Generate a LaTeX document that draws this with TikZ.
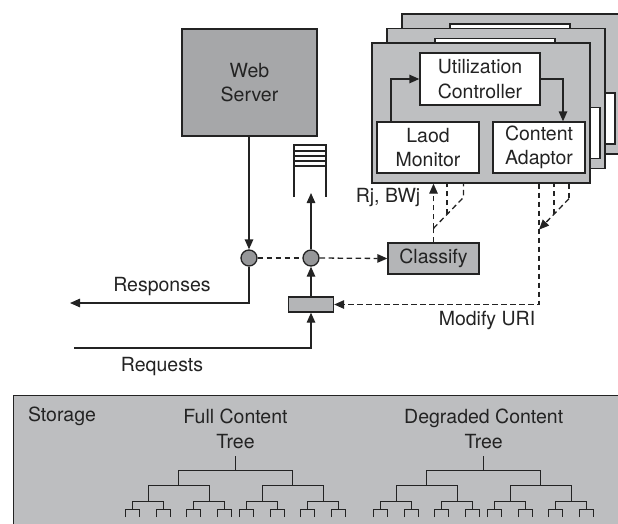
\documentclass[tikz,border=0pt]{standalone}
\usepackage{fontspec}
\setmainfont{TeX Gyre Heros}
\usetikzlibrary{arrows.meta,calc}
\definecolor{panelgray}{RGB}{190,191,193}
\definecolor{webgray}{RGB}{166,167,169}
\definecolor{circgray}{RGB}{150,151,153}
\definecolor{clsgray}{RGB}{180,181,183}
\definecolor{storegray}{RGB}{189,190,192}
\definecolor{ink}{RGB}{35,35,35}
\newif\ifpaneltext
\tikzset{
  lw/.style={line width=1.3pt, draw=ink},
  arr/.style={lw, -{Triangle[length=10pt,width=8.5pt]}},
  dsh/.style={lw, dash pattern=on 5.5pt off 3.5pt},
  txt/.style={font=\fontsize{19.5pt}{24.5pt}\selectfont, text=ink, align=center, inner sep=0pt},
  box/.style={txt, lw, rectangle},
  wbox/.style={box, fill=white},
  pbox/.style={lw, rectangle, fill=panelgray, minimum width=218pt, minimum height=140pt, inner sep=0pt},
  treeline/.style={line width=0.9pt, draw=ink},
  panel/.pic={
    \node[pbox] (-panel) at (109,70) {};
    \node[wbox, minimum width=120pt, minimum height=52pt] (-util) at (108,36) {\ifpaneltext Utilization\\Controller\fi};
    \node[wbox, minimum width=102pt, minimum height=51pt] (-mon) at (56,104.5) {\ifpaneltext Laod\\Monitor\fi};
    \node[wbox, minimum width=92pt, minimum height=51pt] (-ada) at (167,104.5) {\ifpaneltext Content\\Adaptor\fi};
    \draw[arr] ([xshift=-37pt]-mon.north) |- (-util.west);
    \draw[arr] (-util.east) -| ([xshift=24pt]-ada.north);
  }
}
\newcommand\mytree[1]{%
  \draw[treeline] (#1,456) -- (#1,470);
  \draw[treeline] (#1-57,485) -- (#1-57,470) -- (#1+57,470) -- (#1+57,485);
  \foreach \a in {-57,57}{
    \draw[treeline] (#1+\a-30.5,501) -- (#1+\a-30.5,485) -- (#1+\a+30.5,485) -- (#1+\a+30.5,501);
    \foreach \b in {-30.5,30.5}{
      \draw[treeline] (#1+\a+\b-15.5,509) -- (#1+\a+\b-15.5,501) -- (#1+\a+\b+15.5,501) -- (#1+\a+\b+15.5,509);
      \foreach \c in {-15.5,15.5}{
        \draw[treeline] (#1+\a+\b+\c-7,517) -- (#1+\a+\b+\c-7,509) -- (#1+\a+\b+\c+7,509) -- (#1+\a+\b+\c+7,517);
      }
    }
  }
}
\begin{document}
\begin{tikzpicture}[x=1pt,y=-1pt]
\useasboundingbox (0,0) rectangle (618,523);
\clip (0,0) rectangle (618,523);

% storage
\node[lw, rectangle, fill=storegray, minimum width=620pt, minimum height=140pt, inner sep=0pt, anchor=north west] (storage) at (12.7,395) {};
\node[txt] (storagelbl) at (62,416) {Storage};
\node[txt] (fulllbl) at (235.5,429) {Full Content\\Tree};
\node[txt] (deglbl) at (483.7,429) {Degraded Content\\Tree};
\mytree{235.5}
\mytree{483.7}

% panels (back copies are hidden behind the front one, so they carry no text)
\paneltextfalse
\pic (back2) at (402,14) {panel};
\pic (back1) at (387,28.5) {panel};
\paneltexttrue
\pic (front) at (372,43) {panel};

% web server and flow elements
\node[box, fill=webgray, minimum width=135pt, minimum height=107pt] (web) at (249.5,82.5) {Web\\Server};
\node[lw, circle, fill=circgray, minimum size=16pt, inner sep=0pt] (c1) at (249,258) {};
\node[lw, circle, fill=circgray, minimum size=16pt, inner sep=0pt] (c2) at (311,258) {};
\node[box, fill=clsgray, minimum width=91pt, minimum height=31pt] (classify) at (433.5,258.5) {Classify};
\node[box, fill=clsgray, minimum width=45pt, minimum height=15pt] (mux) at (311,304.5) {};

% queue
\draw[lw] (294,197) -- (294,145) -- (326,145) -- (326,197);
\foreach \y in {151,156,161,166}{\draw[lw] (294,\y) -- (326,\y);}
\coordinate (qbot) at (311,193);

% solid connectors
\draw[arr] (web.south -| c1) -- (c1.north);
\coordinate (respEnd) at (70,303);
\draw[arr] (c1.south) |- (respEnd);
\coordinate (reqStart) at (74,348);
\draw[arr] (reqStart) -| (mux.south);
\draw[arr] (mux.north) -- (c2.south);
\draw[arr] (c2.north) -- (qbot);

% dashed connectors
\draw[dsh] (c1.east) -- (c2.west);
\draw[dsh, -{Triangle[length=10pt,width=8.5pt]}] (c2.east) -- (classify.west);

\draw[dsh] (classify.north) -- ++(0,-14) coordinate (lj);
\draw[dsh, -{Triangle[length=10pt,width=8.5pt]}] (lj) -- (lj |- front-panel.south);
\coordinate (lk) at ($(lj)+(30,-31)$);
\draw[dsh] (lj) -- (lk) -- (lk |- front-panel.south);
\coordinate (lm) at ($(lj)!0.45!(lk)$);
\draw[dsh] (lm) -- (lm |- front-panel.south);

\draw[dsh, -{Triangle[length=10pt,width=8.5pt]}] (front-ada.south |- front-panel.south) |- (mux.east);
\coordinate (rj) at ($(front-ada.south |- front-panel.south)+(0,46)$);
\coordinate (rk) at ($(rj)+(30,-31)$);
\draw[dsh] (rk |- front-panel.south) -- (rk);
\draw[dsh, -{Triangle[length=10pt,width=8.5pt]}] (rk) -- (rj);
\coordinate (rm) at ($(rj)!0.5!(rk)$);
\draw[dsh] (rm) -- (rm |- front-panel.south);

% labels
\node[txt] (resplbl) at (162,287) {Responses};
\node[txt] (reqlbl) at (162,367) {Requests};
\node[txt] (rjlbl) at (388,198) {Rj, BWj};
\node[txt] (modlbl) at (487,320) {Modify URI};
\end{tikzpicture}
\end{document}
